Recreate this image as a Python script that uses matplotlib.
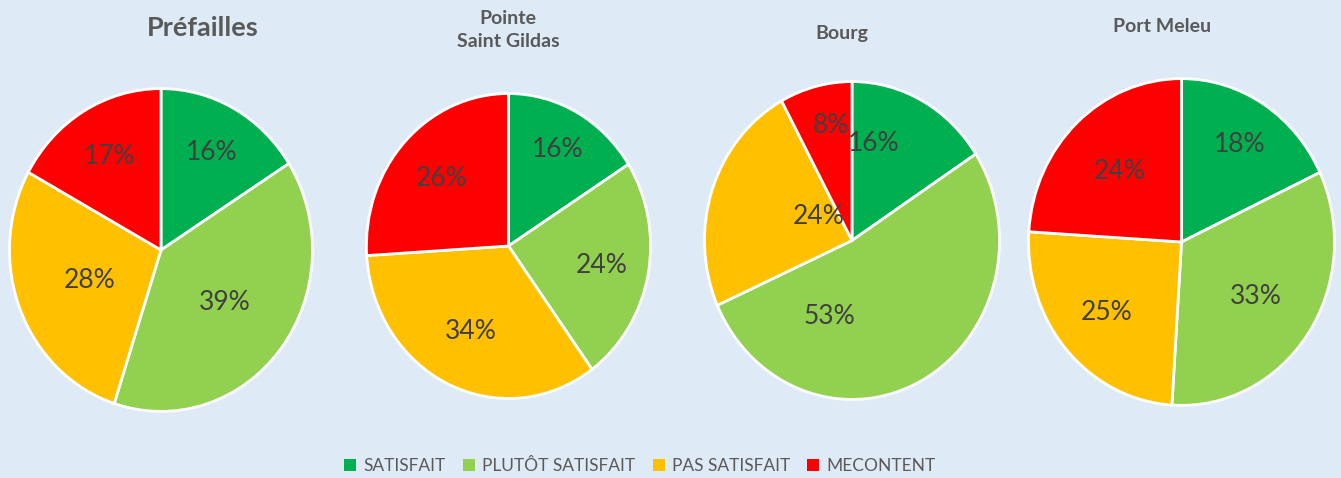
import matplotlib
matplotlib.use('Agg')
from matplotlib import pyplot as plt
from matplotlib.patches import Patch
import numpy as np

plt.rcParams['font.family'] = ['Lato', 'DejaVu Sans']

categories = ['SATISFAIT', 'PLUTÔT SATISFAIT', 'PAS SATISFAIT', 'MECONTENT']
colors = ['#00B050', '#92D050', '#FFC000', '#FF0000']

titles = ['Préfailles', 'Pointe\nSaint Gildas', 'Bourg', 'Port Meleu']
prefailles = [16, 39, 28, 17]
pointe_saint_gildas = [16, 24, 34, 26]
bourg = [16, 53, 24, 8]
port_meleu = [18, 33, 25, 24]
all_values = [prefailles, pointe_saint_gildas, bourg, port_meleu]

# layout, in pixels of the 1341x478 picture: centre x, centre y, radius x, radius y
W, H = 1341, 478
boxes = [(161, 250, 153, 163), (508.5, 246, 143.5, 154),
         (852, 240.5, 149, 160.5), (1181.5, 242, 154.5, 165)]
title_pos = [(203, 28), (508, 30), (842, 33), (1162, 27)]
title_size = [19.5, 14, 14, 14]
# label radius per slice (excel-like placement)
label_r = [[0.69, 0.53, 0.51, 0.67], [0.72, 0.67, 0.62, 0.65],
           [0.63, 0.5, 0.27, 0.74], [0.71, 0.59, 0.65, 0.59]]
label_shift = [[0, 0, 0, 0], [0, 0, 0, 0], [15, -46, -15, -3], [0, 0, 0, 0]]

fig = plt.figure(figsize=(W / 100, H / 100), dpi=100)
fig.patch.set_facecolor('#DEEAF6')

for i, vals in enumerate(all_values):
    cx, cy, rx, ry = boxes[i]
    ax = fig.add_axes([(cx - rx) / W, 1 - (cy + ry) / H, 2 * rx / W, 2 * ry / H])
    wedges, _ = ax.pie(vals, colors=colors, startangle=90, counterclock=False,
                       wedgeprops=dict(edgecolor='white', linewidth=2))
    ax.set_aspect('auto')
    ax.set_xlim(-1.01, 1.01)
    ax.set_ylim(-1.01, 1.01)
    for j, w in enumerate(wedges):
        ang = np.deg2rad((w.theta1 + w.theta2) / 2 + label_shift[i][j])
        r = label_r[i][j]
        ax.text(r * np.cos(ang), r * np.sin(ang), f'{vals[j]}%', ha='center', va='center',
                fontsize=19, color='#404040')
    tx, ty = title_pos[i]
    fig.text(tx / W, 1 - ty / H, titles[i], ha='center', va='center', fontsize=title_size[i],
             fontweight='bold', color='#595959', linespacing=1.4)

handles = [Patch(facecolor=c, edgecolor='none') for c in colors]
fig.legend(handles, categories, loc='center', bbox_to_anchor=(640 / W, 1 - 466 / H), ncol=4,
           frameon=False, fontsize=12.5, labelcolor='#595959', handlelength=0.7, handleheight=0.7,
           handletextpad=0.4, columnspacing=1.0)

fig.savefig('out.png', dpi=100, facecolor=fig.get_facecolor())
